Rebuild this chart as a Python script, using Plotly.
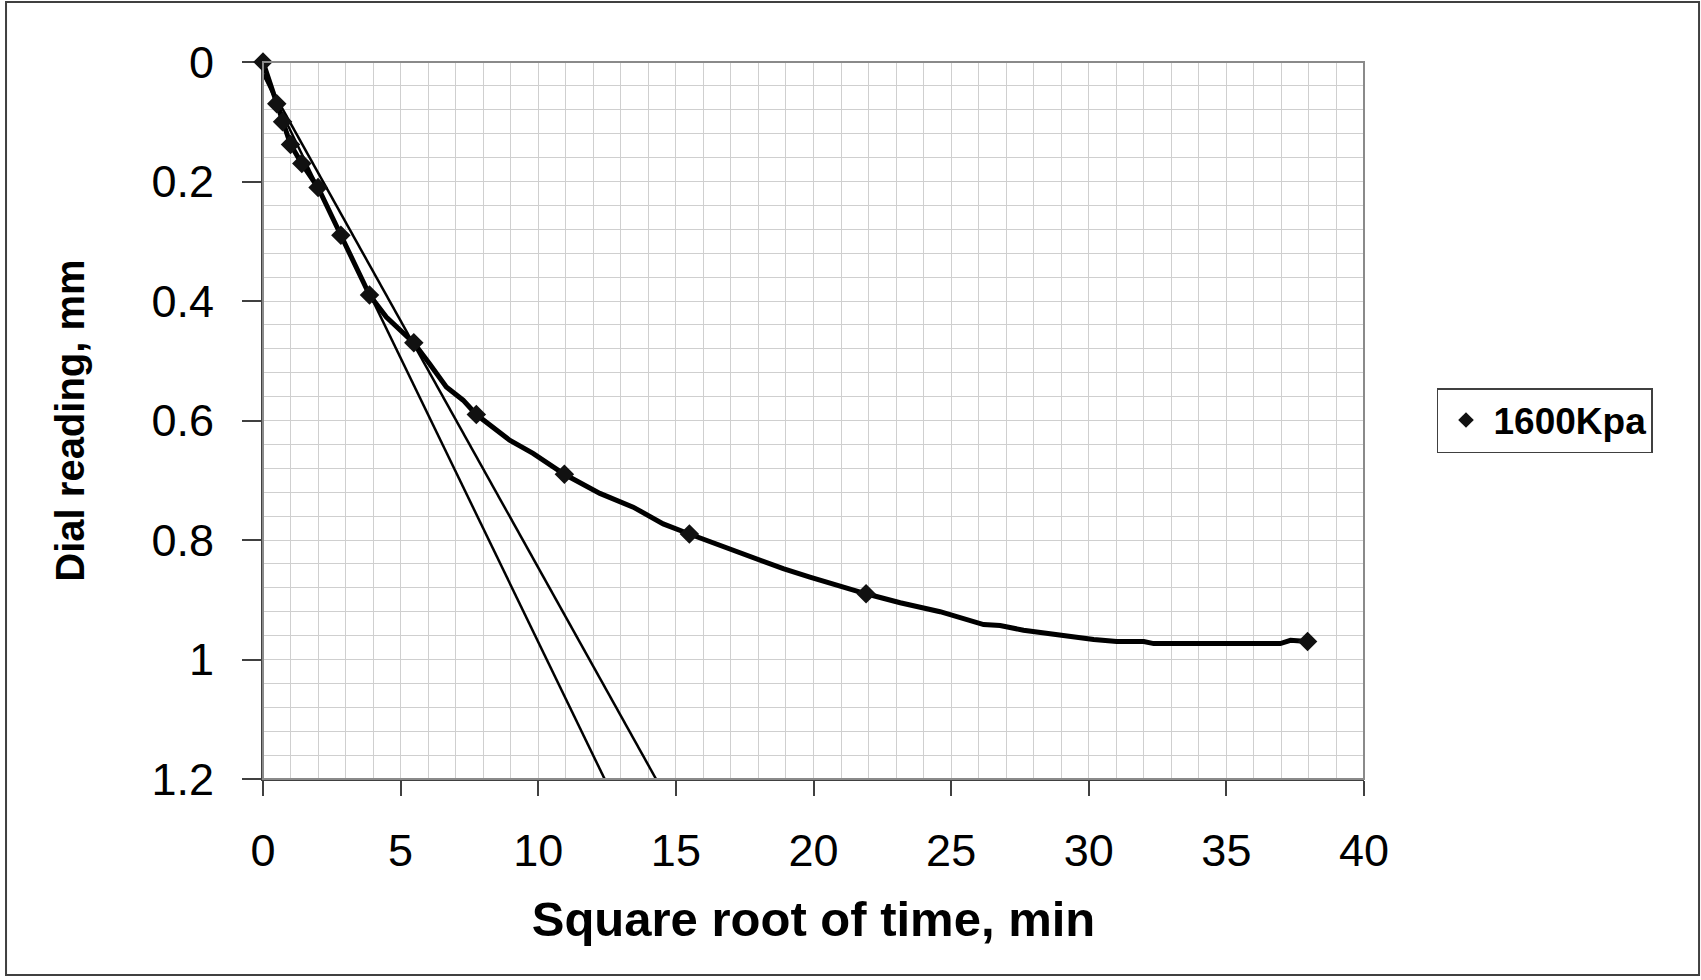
import plotly.graph_objects as go

# Marker readings (square root of time, min ; dial reading, mm)
marker_sqrt_t = [0, 0.5, 0.71, 1.0, 1.41, 2.0, 2.83, 3.87, 5.48, 7.75, 10.95, 15.49, 21.91, 37.95]
marker_reading = [0, 0.07, 0.10, 0.138, 0.17, 0.21, 0.29, 0.39, 0.47, 0.59, 0.69, 0.79, 0.89, 0.97]

# Continuous consolidation curve
curve_sqrt_t = [0, 0.5, 0.71, 1.0, 1.41, 2.0, 2.83, 3.87, 4.48, 4.96, 5.48, 6.05, 6.66, 7.27,
                7.75, 8.96, 9.81, 10.95, 12.24, 13.45, 14.54, 15.49, 16.48, 17.57, 18.9, 19.87,
                20.84, 21.91, 23.15, 24.6, 26.18, 26.78, 27.63, 28.96, 30.18, 31.02, 32.0,
                32.36, 36.96, 37.33, 37.95]
curve_reading = [0, 0.07, 0.10, 0.138, 0.17, 0.21, 0.29, 0.39, 0.427, 0.449, 0.47, 0.505, 0.544,
                 0.566, 0.59, 0.633, 0.655, 0.69, 0.722, 0.745, 0.773, 0.79, 0.807, 0.827, 0.848,
                 0.862, 0.876, 0.89, 0.905, 0.92, 0.9416, 0.943, 0.951, 0.96, 0.9666, 0.970,
                 0.970, 0.9734, 0.9734, 0.968, 0.97]

# Taylor construction lines
tangent_sqrt_t = [0, 12.78]
tangent_reading = [0.02, 1.235]
offset_sqrt_t = [0, 14.28]
offset_reading = [0.02, 1.2]

x_tickvals = [0, 5, 10, 15, 20, 25, 30, 35, 40]
x_ticktext = ["0", "5", "10", "15", "20", "25", "30", "35", "40"]
y_tickvals = [0, 0.2, 0.4, 0.6, 0.8, 1.0, 1.2]
y_ticktext = ["0", "0.2", "0.4", "0.6", "0.8", "1", "1.2"]

fig = go.Figure()

fig.add_trace(go.Scatter(x=tangent_sqrt_t, y=tangent_reading, mode="lines",
                         line=dict(color="black", width=2.5), showlegend=False, hoverinfo="skip"))
fig.add_trace(go.Scatter(x=offset_sqrt_t, y=offset_reading, mode="lines",
                         line=dict(color="black", width=2.5), showlegend=False, hoverinfo="skip"))
fig.add_trace(go.Scatter(x=curve_sqrt_t, y=curve_reading, mode="lines",
                         line=dict(color="black", width=5), showlegend=False))
fig.add_trace(go.Scatter(x=marker_sqrt_t, y=marker_reading, mode="markers", name="1600Kpa",
                         marker=dict(symbol="diamond", size=15, color="#111111"),
                         cliponaxis=False))

grid_col = "#cfcfcf"
axis_font = dict(family="Liberation Sans, Arial, sans-serif", size=45, color="black")

fig.update_layout(
    width=1701, height=980,
    margin=dict(l=263, r=337, t=62, b=201, autoexpand=False),
    paper_bgcolor="white", plot_bgcolor="white",
    font=dict(family="Liberation Sans, Arial, sans-serif", color="black"),
    xaxis=dict(
        range=[0, 40], tickvals=x_tickvals, ticktext=x_ticktext,
        showline=True, linecolor="#404040", linewidth=2,
        ticks="outside", ticklen=15, tickwidth=1.5, tickcolor="#404040",
        tickfont=axis_font, ticklabelstandoff=16,
        showgrid=True, gridcolor=grid_col, gridwidth=1,
        minor=dict(dtick=1, tick0=0, showgrid=True, gridcolor=grid_col, gridwidth=1, ticks=""),
        zeroline=False, automargin=False, layer="below traces",
        title=dict(text="<b>Square root of time, min</b>",
                   font=dict(family="Liberation Sans, Arial, sans-serif", size=49, color="black"),
                   standoff=27),
    ),
    yaxis=dict(
        range=[1.2, 0], tickvals=y_tickvals, ticktext=y_ticktext,
        showline=True, linecolor="#404040", linewidth=2,
        ticks="outside", ticklen=19, tickwidth=1.5, tickcolor="#404040",
        tickfont=axis_font, ticklabelstandoff=19,
        showgrid=True, gridcolor=grid_col, gridwidth=1,
        minor=dict(dtick=0.04, tick0=0, showgrid=True, gridcolor=grid_col, gridwidth=1, ticks=""),
        zeroline=False, automargin=False, layer="below traces",
        title=dict(text="<b>Dial reading, mm</b>",
                   font=dict(family="Liberation Sans, Arial, sans-serif", size=40, color="black"),
                   standoff=54),
    ),
    legend=dict(
        x=1.0663, y=0.5, xanchor="left", yanchor="middle",
        font=dict(family="Liberation Sans, Arial, sans-serif", size=37, color="black", weight="bold"),
        bordercolor="#404040", borderwidth=1.5, bgcolor="white",
        itemsizing="constant", itemwidth=45,
    ),
    shapes=[
        dict(type="rect", xref="paper", yref="paper", x0=0, x1=1, y0=0, y1=1,
             line=dict(color="#8a8a8a", width=2), layer="above"),
        dict(type="rect", xref="paper", yref="paper", x0=-0.2334, x1=1.3043, y0=-0.2734, y1=1.0837,
             line=dict(color="#404040", width=2), layer="above"),
    ],
)

fig.write_html("out.html")
